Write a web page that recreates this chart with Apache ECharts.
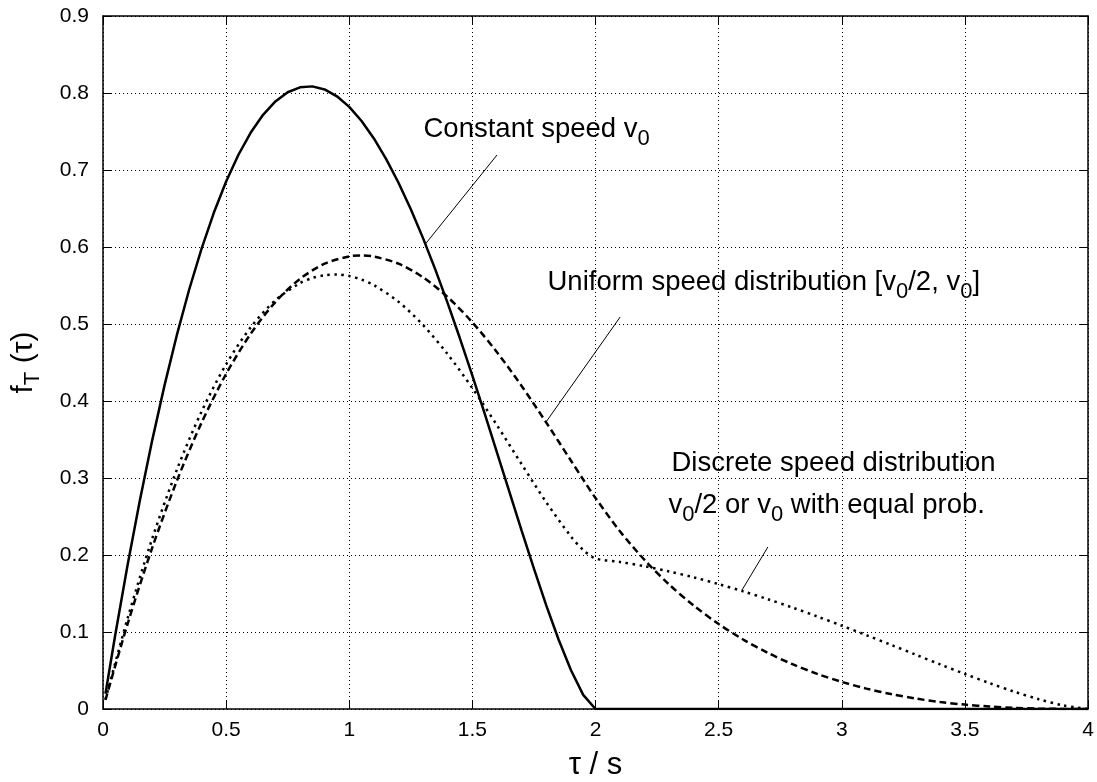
<!DOCTYPE html>
<html><head><meta charset="utf-8">
<script src="https://cdn.jsdelivr.net/npm/echarts@6/dist/echarts.min.js"></script>
<style>html,body{margin:0;padding:0;background:#fff}#c{width:1097px;height:782px}</style>
</head><body><div id="c"></div>
<script>
// ---- data ----
const xTicks = ['0','0.5','1','1.5','2','2.5','3','3.5','4'];
const yTicks = ['0','0.1','0.2','0.3','0.4','0.5','0.6','0.7','0.8','0.9'];

const tauConstant = [0.01,0.05,0.1,0.15,0.2,0.25,0.3,0.35,0.4,0.45,0.5,0.55,0.6,0.65,0.7,0.75,0.8,0.85,0.9,0.95,
  1.0,1.05,1.1,1.15,1.2,1.25,1.3,1.35,1.4,1.45,1.5,1.55,1.6,1.65,1.7,1.75,1.8,1.85,1.9,1.95,2.0,2.5,3.0,3.5,4.0];
const constantSpeed = [0.0199,0.0968,0.1873,0.2714,0.3492,0.4206,0.4858,0.5448,0.5976,0.6444,0.6850,0.7198,0.7486,0.7717,0.7891,0.8010,0.8074,0.8086,0.8046,0.7957,
  0.7820,0.7637,0.7410,0.7142,0.6834,0.6490,0.6112,0.5703,0.5267,0.4808,0.4329,0.3835,0.3331,0.2823,0.2317,0.1822,0.1346,0.0902,0.0506,0.0184,0,0,0,0,0];

const tauUniform = [0.01,0.1,0.2,0.3,0.4,0.5,0.6,0.7,0.8,0.9,1.0,1.05,1.1,1.2,1.3,1.4,1.5,1.6,1.7,1.8,1.9,1.95,
  2.0,2.1,2.2,2.3,2.4,2.5,2.6,2.7,2.8,2.9,3.0,3.1,3.2,3.3,3.4,3.5,3.6,3.7,3.8,3.9,4.0];
const uniformSpeed = [0.0117,0.1107,0.2095,0.2964,0.3716,0.4352,0.4874,0.5285,0.5586,0.5783,0.5878,0.5889,0.5876,0.5783,0.5605,0.5348,0.5021,0.4633,0.4195,0.3720,0.3227,0.2980,
  0.2740,0.2305,0.1933,0.1614,0.1340,0.1104,0.0902,0.0729,0.0582,0.0457,0.0352,0.0265,0.0194,0.0136,0.0091,0.0057,0.0032,0.0015,0.0006,0.0001,0];

const tauDiscrete = [0.01,0.1,0.2,0.3,0.4,0.5,0.6,0.7,0.8,0.85,0.9,0.95,1.0,1.05,1.1,1.2,1.3,1.4,1.5,1.6,1.7,1.8,1.9,1.95,
  2.0,2.1,2.2,2.3,2.4,2.5,2.6,2.7,2.8,2.9,3.0,3.1,3.2,3.3,3.4,3.5,3.6,3.7,3.8,3.9,4.0];
const discreteSpeed = [0.0124,0.1178,0.2214,0.3108,0.3861,0.4477,0.4958,0.5308,0.5531,0.5597,0.5634,0.5642,0.5623,0.5576,0.5505,0.5289,0.4985,0.4606,0.4167,0.3684,0.3180,0.2685,0.2242,0.2065,
  0.1955,0.1909,0.1853,0.1785,0.1709,0.1622,0.1528,0.1426,0.1317,0.1202,0.1082,0.0959,0.0833,0.0706,0.0579,0.0455,0.0336,0.0225,0.0127,0.0046,0];

// annotation texts (anchor = left edge, in data units) and leader lines (data units)
const annotationTexts = [
  '{m|Constant speed v}{s|0}',
  '{m|Uniform speed distribution [v}{s|0}{m|/2, v}{s|0}{m|]}',
  '{m|Discrete speed distribution}',
  '{m|v}{s|0}{m|/2 or v}{s|0}{m| with equal prob.}'
];
const annotationAnchors = [[1.2995,0.7513],[1.803,0.5526],[2.3066,0.3182],[2.2944,0.263]];
const leaderStarts = [[1.312,0.605],[1.799,0.3727],[2.595,0.1545]];
const leaderEnds = [[1.600,0.7195],[2.100,0.509],[2.700,0.2104]];

// ---- chart ----
const FONT = "'Liberation Sans', Arial, Helvetica, sans-serif";
const rich = {
  m: {fontFamily: FONT, fontSize: 27.5, lineHeight: 30, verticalAlign: 'top', color: '#000'},
  s: {fontFamily: FONT, fontSize: 22, lineHeight: 30, verticalAlign: 'top', padding: [12,0,0,0], color: '#000'}
};
const nameRich = {
  m: {fontFamily: FONT, fontSize: 30, lineHeight: 32, verticalAlign: 'top', color: '#000'},
  s: {fontFamily: FONT, fontSize: 22, lineHeight: 32, verticalAlign: 'top', padding: [13,0,0,0], color: '#000'}
};

const pair = (xs, ys) => xs.map((x, i) => [x, ys[i]]);
const axisLineStyle = {color: '#000', width: 1.5};
const tickStyle = {show: true, inside: true, length: 9, lineStyle: {color: '#000', width: 1}};
const gridLine = {show: true, lineStyle: {color: '#000', width: 1, type: [1, 3]}};

const chart = echarts.init(document.getElementById('c'), null, {renderer: 'canvas'});
chart.setOption({
  animation: false,
  backgroundColor: '#fff',
  grid: {left: 103, right: 9, top: 16, bottom: 73, containLabel: false, outerBoundsMode: 'none'},
  xAxis: [{
    type: 'value', min: 0, max: 4, interval: 0.5, position: 'bottom',
    axisLine: {show: true, onZero: false, lineStyle: axisLineStyle},
    axisTick: tickStyle,
    axisLabel: {margin: 11, fontSize: 21, color: '#000', fontFamily: FONT,
      formatter: v => xTicks[Math.round(v / 0.5)]},
    splitLine: gridLine,
    name: 'τ / s', nameLocation: 'middle', nameGap: 41,
    nameTextStyle: {fontSize: 31, color: '#000', fontFamily: FONT}
  }, {
    type: 'value', min: 0, max: 4, interval: 0.5, position: 'top',
    axisLine: {show: true, onZero: false, lineStyle: axisLineStyle},
    axisTick: tickStyle, axisLabel: {show: false}, splitLine: {show: false}
  }],
  yAxis: [{
    type: 'value', min: 0, max: 0.9, interval: 0.1, position: 'left',
    axisLine: {show: true, onZero: false, lineStyle: axisLineStyle},
    axisTick: tickStyle,
    axisLabel: {margin: 14, fontSize: 21, color: '#000', fontFamily: FONT,
      formatter: v => yTicks[Math.round(v / 0.1)]},
    splitLine: gridLine,
    name: '{m|f}{s|T}{m| (τ)}', nameLocation: 'middle', nameGap: 62,
    nameTextStyle: {rich: nameRich, fontFamily: FONT, color: '#000'}
  }, {
    type: 'value', min: 0, max: 0.9, interval: 0.1, position: 'right',
    axisLine: {show: true, onZero: false, lineStyle: axisLineStyle},
    axisTick: tickStyle, axisLabel: {show: false}, splitLine: {show: false}
  }],
  series: [{
    name: 'Constant speed', type: 'line', xAxisIndex: 0, yAxisIndex: 0,
    data: pair(tauConstant, constantSpeed), showSymbol: false, smooth: false,
    lineStyle: {color: '#000', width: 2.5, type: 'solid'},
    markLine: {
      silent: true, animation: false, symbol: ['none', 'none'],
      lineStyle: {color: '#000', width: 1, type: 'solid'},
      label: {show: false},
      data: leaderStarts.map((s, i) => [{coord: s}, {coord: leaderEnds[i]}])
    },
    markPoint: {
      silent: true, animation: false, symbol: 'circle', symbolSize: 1,
      itemStyle: {color: 'rgba(0,0,0,0)'},
      label: {show: true, position: 'right', distance: 0, rich: rich},
      data: annotationAnchors.map((a, i) => ({coord: a, label: {formatter: annotationTexts[i]}}))
    }
  }, {
    name: 'Uniform speed', type: 'line', xAxisIndex: 0, yAxisIndex: 0,
    data: pair(tauUniform, uniformSpeed), showSymbol: false, smooth: 0.3,
    lineStyle: {color: '#000', width: 2.5, type: [7, 4]}
  }, {
    name: 'Discrete speed', type: 'line', xAxisIndex: 0, yAxisIndex: 0,
    data: pair(tauDiscrete, discreteSpeed), showSymbol: false, smooth: 0.3,
    lineStyle: {color: '#000', width: 2.5, type: [2.5, 4.5], cap: 'butt'}
  }]
});
</script>
</body></html>
